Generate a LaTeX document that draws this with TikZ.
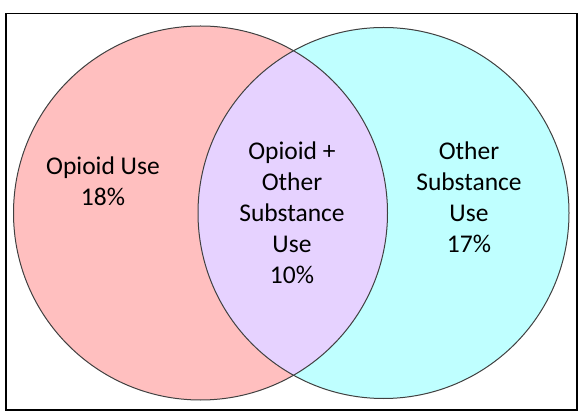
\documentclass[tikz,border=0pt]{standalone}
\usepackage{fontspec}
\setmainfont{Carlito}
\definecolor{pinkfill}{RGB}{255,191,191}
\definecolor{cyanfill}{RGB}{191,255,255}
\definecolor{lavfill}{RGB}{230,210,255}
\definecolor{edge}{RGB}{64,64,64}
\begin{document}
\begin{tikzpicture}[x=1pt,y=-1pt,
  outline/.style={draw=edge,line width=1pt},
  lbl/.style={align=center,font=\fontsize{25.5pt}{31pt}\selectfont,text=black,inner sep=0pt}]
\useasboundingbox (0,0) rectangle (586,419);
\coordinate (lc) at (200.5,213);
\coordinate (rc) at (383.5,213);
\fill[pinkfill] (lc) circle[radius=187pt];
\fill[cyanfill] (rc) circle[radius=185.5pt];
\begin{scope}
\clip (lc) circle[radius=187pt];
\fill[lavfill] (rc) circle[radius=185.5pt];
\end{scope}
\draw[outline] (lc) circle[radius=187pt];
\draw[outline] (rc) circle[radius=185.5pt];
\draw[black,line width=1.5pt] (6,13.5) rectangle (577,410);
\node[lbl] (left) at (103,181) {Opioid Use\\18\%};
\node[lbl] (mid) at (292,212.5) {Opioid +\\Other\\Substance\\Use\\10\%};
\node[lbl] (right) at (469,197) {Other\\Substance\\Use\\17\%};
\end{tikzpicture}
\end{document}
